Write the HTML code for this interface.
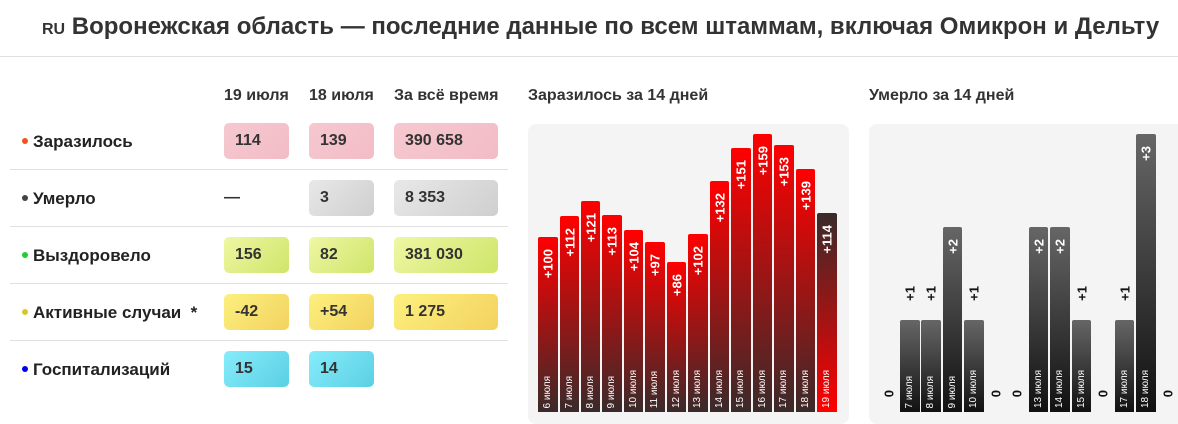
<!DOCTYPE html>
<html><head><meta charset="utf-8"><style>
*{margin:0;padding:0;box-sizing:border-box}
body{width:1178px;height:415px;overflow:hidden;background:#fff;font-family:"Liberation Sans",Arial,sans-serif;color:#222;position:relative}
.a{position:absolute}
.t{left:42px;top:13px;font-size:24px;font-weight:bold;color:#333;white-space:nowrap}
.t small{font-size:16px}
.hr{left:0;top:56px;width:1178px;height:1px;background:#e0e0e0}
.h{font-size:16px;font-weight:bold;color:#333;top:87px;white-space:nowrap}
.lab{left:22px;font-size:17px;font-weight:bold;color:#222;white-space:nowrap}
.lab i{display:inline-block;width:6px;height:6px;border-radius:3px;margin-right:5px;vertical-align:middle;position:relative;top:-2px}
.ln{left:10px;width:498px;height:1px;background:#e0e0e0}
.c{height:36px;border-radius:5px;font-size:16px;font-weight:bold;color:#333;padding-left:11px;line-height:36px}
.r{background:linear-gradient(135deg,#f6c8cf,#f2bcc6)}
.g{background:linear-gradient(135deg,#e8e8e8,#cfcfcf)}
.y{background:linear-gradient(135deg,#eff7a3,#cfe56a)}
.o{background:linear-gradient(135deg,#fcf07f,#f3d25f)}
.b{background:linear-gradient(135deg,#86ecfb,#5ad0e3)}
.p{background:#f4f4f4;border-radius:8px;top:124px;height:300px}
.bar{position:absolute;width:19.5px;bottom:3px;border-radius:2px 2px 0 0}
.rb{background:linear-gradient(#ff0000,#3a2a2a)}
.lb{background:linear-gradient(#3a2a2a,#ff0000)}
.db{background:linear-gradient(#666,#111)}
.v{position:absolute;left:0;width:100%;writing-mode:vertical-rl;transform:rotate(180deg);font-size:13px;font-weight:bold;color:#fff;display:flex;align-items:center;justify-content:flex-start;line-height:19px}
.d{position:absolute;left:0;width:100%;bottom:4px;writing-mode:vertical-rl;transform:rotate(180deg);font-size:10px;color:#fff;line-height:19px;white-space:nowrap}
.k{color:#111}
</style></head><body>
<div class="a t"><small>RU</small> Воронежская область — последние данные по всем штаммам, включая Омикрон и Дельту</div>
<div class="a hr"></div>

<div class="a h" style="left:224px">19 июля</div>
<div class="a h" style="left:309px">18 июля</div>
<div class="a h" style="left:394px">За всё время</div>

<div class="a lab" style="top:132px"><i style="background:#f4511e"></i>Заразилось</div>
<div class="a lab" style="top:189px"><i style="background:#444"></i>Умерло</div>
<div class="a lab" style="top:246px"><i style="background:#22cc33"></i>Выздоровело</div>
<div class="a lab" style="top:303px"><i style="background:#d4c92a"></i>Активные случаи&nbsp; *</div>
<div class="a lab" style="top:360px"><i style="background:#0000ee"></i>Госпитализаций</div>
<div class="a ln" style="top:169px"></div>
<div class="a ln" style="top:226px"></div>
<div class="a ln" style="top:283px"></div>
<div class="a ln" style="top:340px"></div>

<div class="a c r" style="left:224px;top:123px;width:65px">114</div>
<div class="a c r" style="left:309px;top:123px;width:65px">139</div>
<div class="a c r" style="left:394px;top:123px;width:104px">390 658</div>
<div class="a c" style="left:213px;top:180px;width:65px">—</div>
<div class="a c g" style="left:309px;top:180px;width:65px">3</div>
<div class="a c g" style="left:394px;top:180px;width:104px">8 353</div>
<div class="a c y" style="left:224px;top:237px;width:65px">156</div>
<div class="a c y" style="left:309px;top:237px;width:65px">82</div>
<div class="a c y" style="left:394px;top:237px;width:104px">381 030</div>
<div class="a c o" style="left:224px;top:294px;width:65px">-42</div>
<div class="a c o" style="left:309px;top:294px;width:65px">+54</div>
<div class="a c o" style="left:394px;top:294px;width:104px">1 275</div>
<div class="a c b" style="left:224px;top:351px;width:65px">15</div>
<div class="a c b" style="left:309px;top:351px;width:65px">14</div>

<div class="a h" style="left:528px">Заразилось за 14 дней</div>
<div class="a h" style="left:869px">Умерло за 14 дней</div>

<div class="a p" style="left:528px;width:321px"></div>
<div class="a p" style="left:869px;width:320px"></div>

<div class="a" style="left:0;top:0;width:1178px;height:415px">
<div class="bar rb" style="left:538px;height:174.8px"><div class="v" style="top:12px">+100</div><div class="d">6 июля</div></div>
<div class="bar rb" style="left:559.5px;height:195.8px"><div class="v" style="top:12px">+112</div><div class="d">7 июля</div></div>
<div class="bar rb" style="left:580.9px;height:211.5px"><div class="v" style="top:12px">+121</div><div class="d">8 июля</div></div>
<div class="bar rb" style="left:602.4px;height:197.5px"><div class="v" style="top:12px">+113</div><div class="d">9 июля</div></div>
<div class="bar rb" style="left:623.8px;height:181.8px"><div class="v" style="top:12px">+104</div><div class="d">10 июля</div></div>
<div class="bar rb" style="left:645.3px;height:169.6px"><div class="v" style="top:12px">+97</div><div class="d">11 июля</div></div>
<div class="bar rb" style="left:666.8px;height:150.3px"><div class="v" style="top:12px">+86</div><div class="d">12 июля</div></div>
<div class="bar rb" style="left:688.2px;height:178.3px"><div class="v" style="top:12px">+102</div><div class="d">13 июля</div></div>
<div class="bar rb" style="left:709.7px;height:230.7px"><div class="v" style="top:12px">+132</div><div class="d">14 июля</div></div>
<div class="bar rb" style="left:731.1px;height:263.9px"><div class="v" style="top:12px">+151</div><div class="d">15 июля</div></div>
<div class="bar rb" style="left:752.6px;height:277.9px"><div class="v" style="top:12px">+159</div><div class="d">16 июля</div></div>
<div class="bar rb" style="left:774.1px;height:267.4px"><div class="v" style="top:12px">+153</div><div class="d">17 июля</div></div>
<div class="bar rb" style="left:795.5px;height:243px"><div class="v" style="top:12px">+139</div><div class="d">18 июля</div></div>
<div class="bar lb" style="left:817px;height:199.3px"><div class="v" style="top:12px">+114</div><div class="d">19 июля</div></div>

<div class="bar" style="left:878.5px;height:30px"><div class="v k" style="top:8px">0</div></div>
<div class="bar db" style="left:900px;height:92px"><div class="v k" style="top:-34px">+1</div><div class="d">7 июля</div></div>
<div class="bar db" style="left:921.4px;height:92px"><div class="v k" style="top:-34px">+1</div><div class="d">8 июля</div></div>
<div class="bar db" style="left:942.9px;height:185px"><div class="v" style="top:12px">+2</div><div class="d">9 июля</div></div>
<div class="bar db" style="left:964.3px;height:92px"><div class="v k" style="top:-34px">+1</div><div class="d">10 июля</div></div>
<div class="bar" style="left:985.8px;height:30px"><div class="v k" style="top:8px">0</div></div>
<div class="bar" style="left:1007.3px;height:30px"><div class="v k" style="top:8px">0</div></div>
<div class="bar db" style="left:1028.7px;height:185px"><div class="v" style="top:12px">+2</div><div class="d">13 июля</div></div>
<div class="bar db" style="left:1050.2px;height:185px"><div class="v" style="top:12px">+2</div><div class="d">14 июля</div></div>
<div class="bar db" style="left:1071.6px;height:92px"><div class="v k" style="top:-34px">+1</div><div class="d">15 июля</div></div>
<div class="bar" style="left:1093.1px;height:30px"><div class="v k" style="top:8px">0</div></div>
<div class="bar db" style="left:1114.6px;height:92px"><div class="v k" style="top:-34px">+1</div><div class="d">17 июля</div></div>
<div class="bar db" style="left:1136px;height:278px"><div class="v" style="top:12px">+3</div><div class="d">18 июля</div></div>
<div class="bar" style="left:1157.5px;height:30px"><div class="v k" style="top:8px">0</div></div>
</div>
</body></html>
